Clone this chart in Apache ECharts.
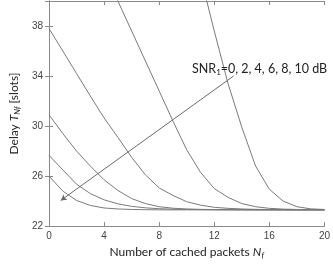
<!DOCTYPE html>
<html><head><meta charset="utf-8">
<script src="https://cdn.jsdelivr.net/npm/echarts@6/dist/echarts.min.js"></script>
<style>html,body{margin:0;padding:0;background:#fff}#c{width:333px;height:264px}</style>
</head><body><div id="c"></div>
<script>
var xValues = [0,1,2,3,4,5,6,7,8,9,10,11,12,13,14,15,16,17,18,19,20];
var snr0  = [null,null,null,null,null,null,null,null,null,null,46.5,42.0,37.6,33.4,29.9,26.8,24.95,24.0,23.55,23.38,23.33];
var snr2  = [null,null,null,null,42.4,40.0,37.6,35.2,32.8,30.4,28.1,26.3,25.0,24.3,23.8,23.55,23.42,23.36,23.33,23.32,23.3];
var snr4  = [37.8,36.0,34.2,32.4,30.65,29.1,27.5,26.1,25.05,24.45,23.95,23.68,23.5,23.42,23.37,23.34,23.32,23.31,23.3,23.3,23.3];
var snr6  = [30.9,29.4,28.0,26.8,25.7,24.85,24.2,23.8,23.55,23.43,23.37,23.34,23.32,23.31,23.31,23.3,23.3,23.3,23.3,23.3,23.3];
var snr8  = [27.65,26.5,25.35,24.6,24.1,23.78,23.58,23.46,23.39,23.35,23.33,23.32,23.31,23.31,23.3,23.3,23.3,23.3,23.3,23.3,23.3];
var snr10 = [26.0,24.8,24.05,23.65,23.45,23.37,23.33,23.31,23.3,23.3,23.3,23.3,23.3,23.3,23.3,23.3,23.3,23.3,23.3,23.3,23.3];
var seriesNames = ['0 dB','2 dB','4 dB','6 dB','8 dB','10 dB'];
var xTicks = [0,4,8,12,16,20];
var yTicks = [22,26,30,34,38];
var arrowFrom = [13.4, 34.0];
var arrowTo = [0.85, 24.05];

function pairs(arr){ return xValues.map(function(x,i){ return [x, arr[i]]; }); }

var lineCol = '#7a7a7a', axisCol = '#8a8a8a';
var allSeries = [snr0,snr2,snr4,snr6,snr8,snr10].map(function(a,i){
  return {name: seriesNames[i], type:'line', data: pairs(a), showSymbol:false, symbol:'none',
    clip:true, connectNulls:false, animation:false, silent:true,
    lineStyle:{color:lineCol, width:1}};
});
allSeries[5].markLine = {
  silent:true, animation:false, symbol:['none','arrow'], symbolSize:[5,6],
  label:{show:false},
  lineStyle:{color:'#6a6a6a', width:1, type:'solid'},
  data:[[{coord:arrowFrom},{coord:arrowTo}]]
};

var chart = echarts.init(document.getElementById('c'), null, {renderer:'canvas'});
var nameFont = 'Lato, "Open Sans", sans-serif';
chart.setOption({
  animation:false,
  grid:{left:44, right:6, top:1, bottom:37, containLabel:false},
  title:{
    text:'{n|SNR}{s|1}{n|=0, 2, 4, 6, 8, 10 dB}',
    left:192, top:62, padding:0,
    textStyle:{fontWeight:'normal', rich:{
      n:{fontFamily:nameFont, fontSize:12.5, fontWeight:'normal', color:'#222'},
      s:{fontFamily:nameFont, fontSize:8, fontWeight:'normal', color:'#222', padding:[6,0,0,0]}
    }}
  },
  xAxis:[{
    type:'value', min:0, max:20, interval:4, position:'bottom',
    axisLine:{show:true, lineStyle:{color:axisCol, width:1}},
    axisTick:{show:true, inside:true, length:4, lineStyle:{color:axisCol}},
    axisLabel:{color:'#444', fontSize:10, fontFamily:'"Liberation Sans", Arial, sans-serif', margin:5,
      formatter:function(v){ return xTicks.indexOf(v)>=0 ? String(v) : ''; }},
    splitLine:{show:false},
    name:'{n|Number of cached packets }{i|N}{s|f}',
    nameLocation:'middle', nameGap:14,
    nameTextStyle:{rich:{
      n:{fontFamily:nameFont, fontSize:12, color:'#222'},
      i:{fontFamily:nameFont, fontSize:12, color:'#222', fontStyle:'italic'},
      s:{fontFamily:nameFont, fontSize:8, color:'#222', fontStyle:'italic', padding:[6,0,0,0]}
    }}
  },{
    type:'value', min:0, max:20, interval:4, position:'top',
    axisLine:{show:true, lineStyle:{color:axisCol, width:1}},
    axisTick:{show:true, inside:true, length:4, lineStyle:{color:axisCol}},
    axisLabel:{show:false}, splitLine:{show:false}
  }],
  yAxis:[{
    type:'value', min:22, max:40, interval:4, position:'left',
    axisLine:{show:true, lineStyle:{color:axisCol, width:1}},
    axisTick:{show:true, inside:true, length:4, lineStyle:{color:axisCol}},
    axisLabel:{color:'#444', fontSize:10, fontFamily:'"Liberation Sans", Arial, sans-serif', margin:6,
      formatter:function(v){ return yTicks.indexOf(v)>=0 ? String(v) : ''; }},
    splitLine:{show:false},
    name:'{n|Delay }{i|T}{s|Nf}{n| [slots]}',
    nameLocation:'middle', nameGap:27, nameRotate:90,
    nameTextStyle:{rich:{
      n:{fontFamily:nameFont, fontSize:12, color:'#222'},
      i:{fontFamily:nameFont, fontSize:12, color:'#222', fontStyle:'italic'},
      s:{fontFamily:nameFont, fontSize:8, color:'#222', fontStyle:'italic', padding:[6,0,0,0]}
    }}
  },{
    type:'value', min:22, max:40, interval:4, position:'right',
    axisLine:{show:true, lineStyle:{color:axisCol, width:1}},
    axisTick:{show:true, inside:true, length:4, lineStyle:{color:axisCol}},
    axisLabel:{show:false}, splitLine:{show:false}
  }],
  series: allSeries
});
</script></body></html>
